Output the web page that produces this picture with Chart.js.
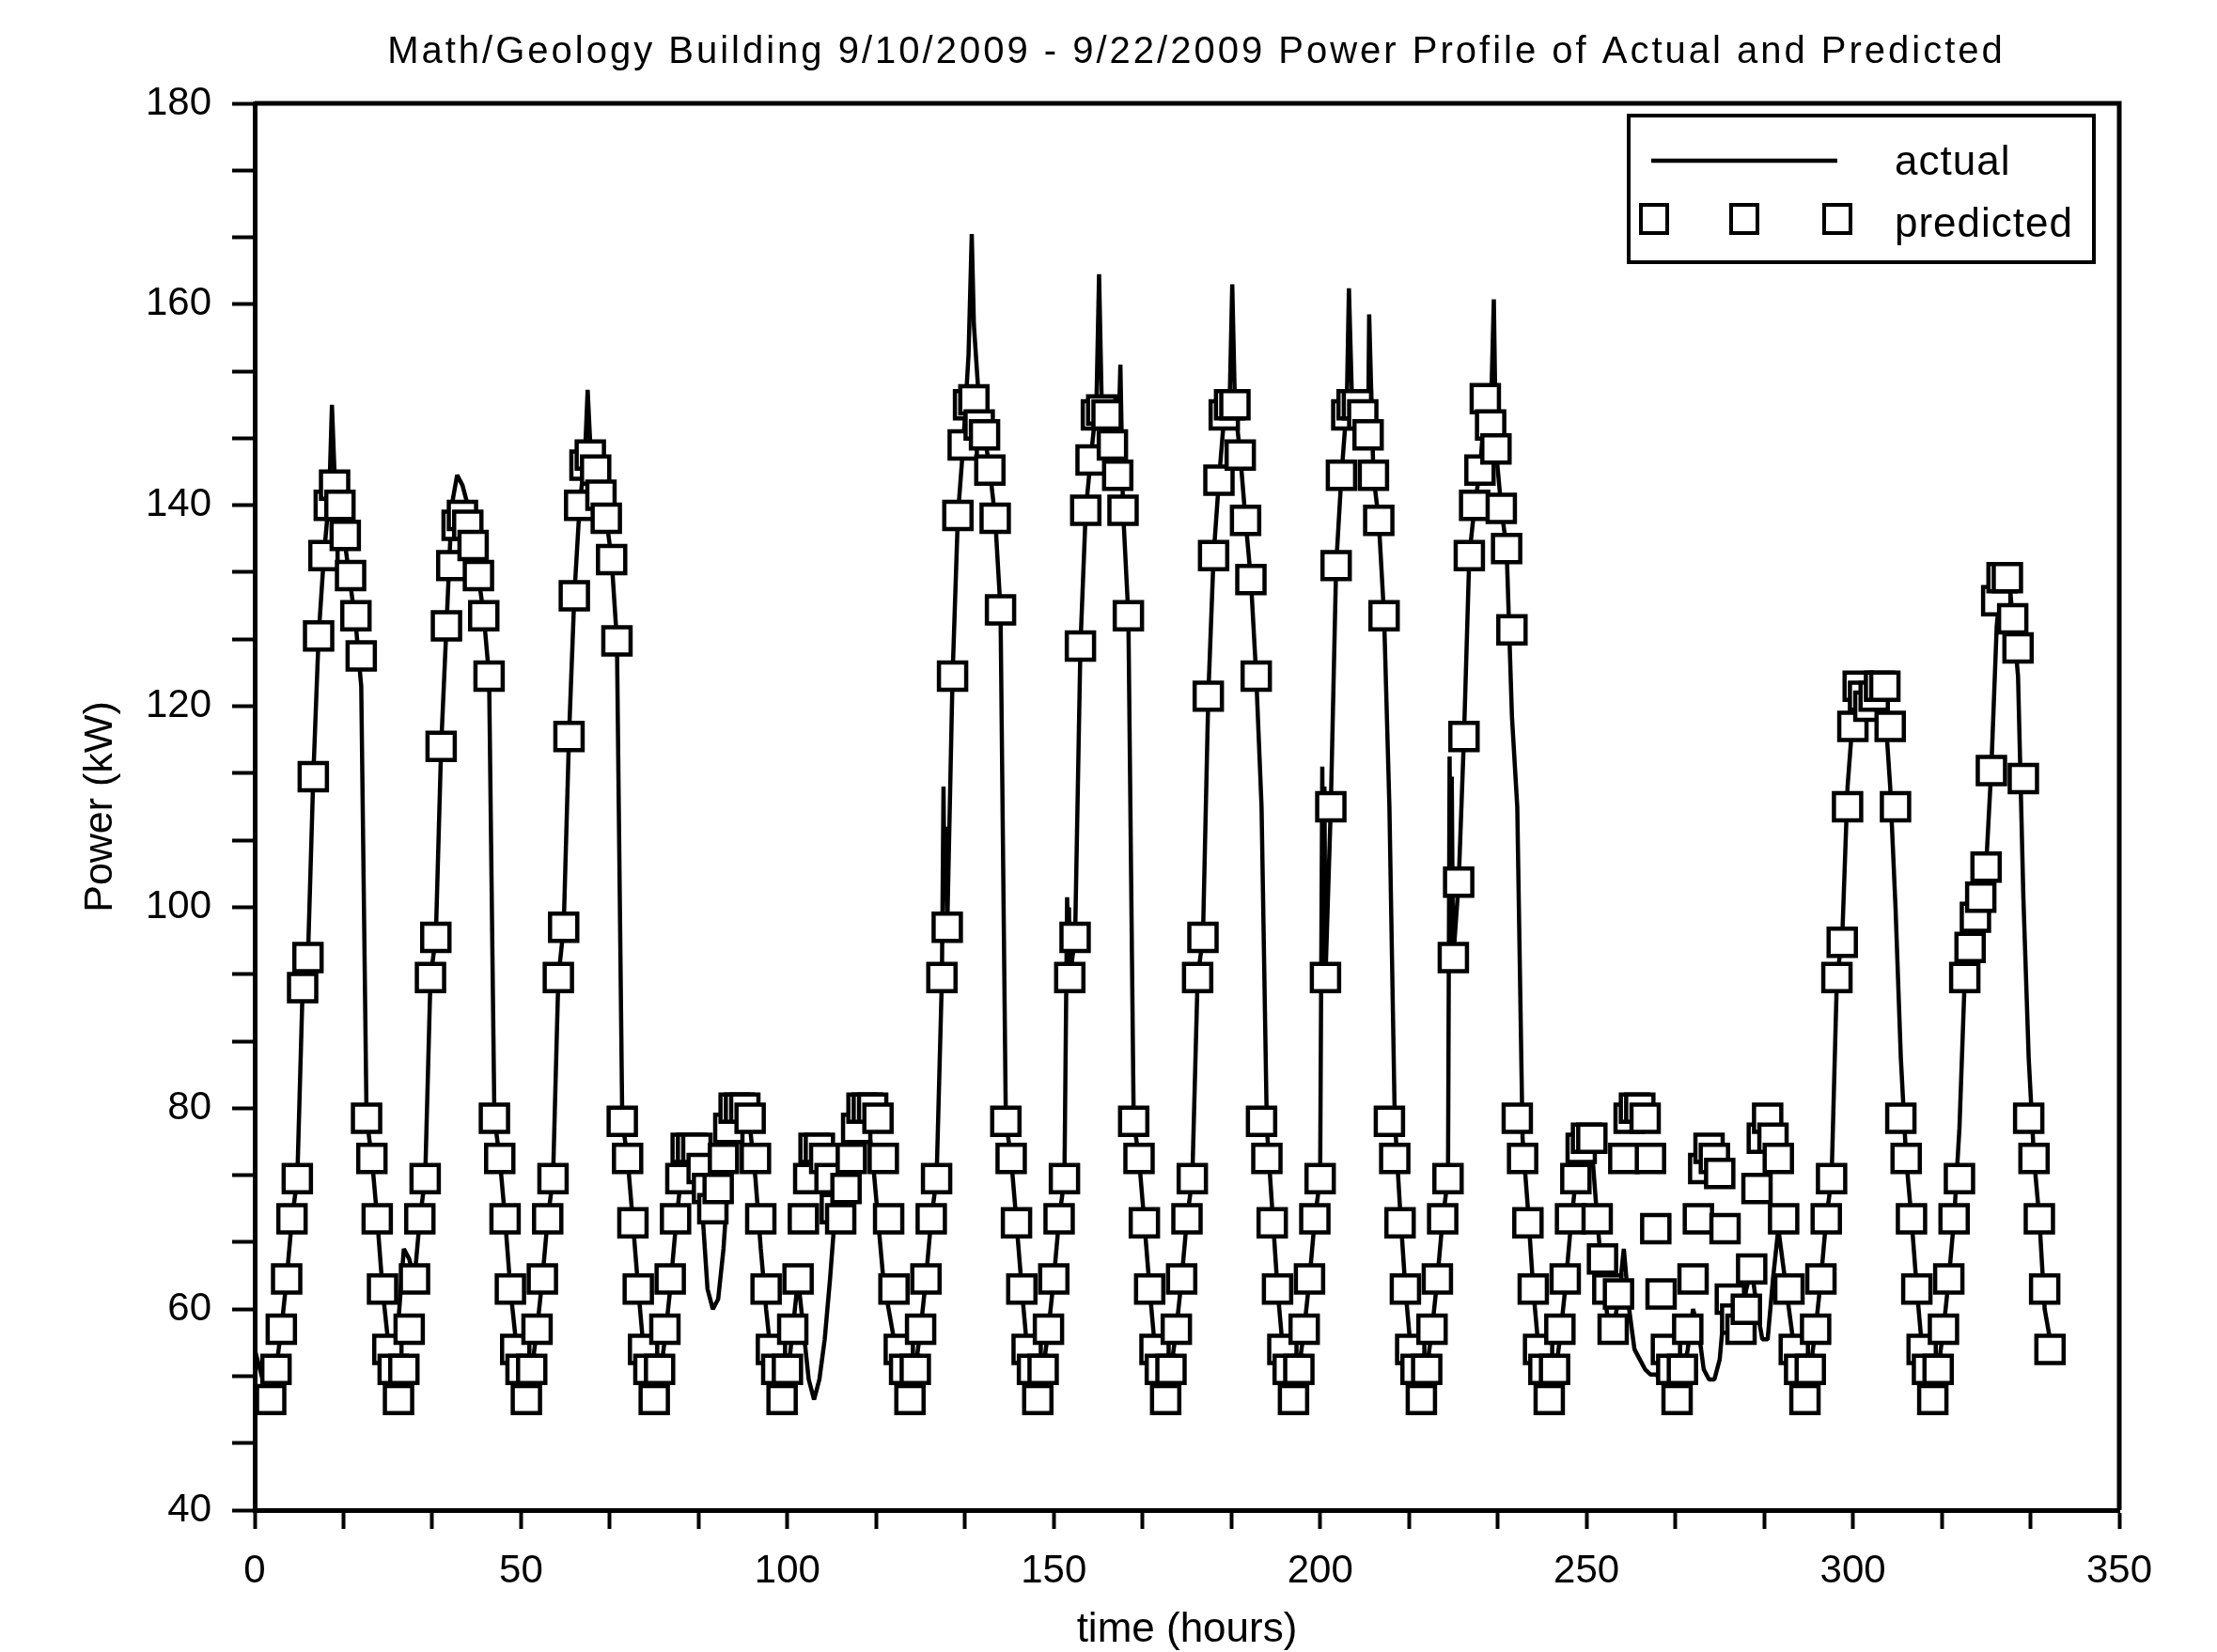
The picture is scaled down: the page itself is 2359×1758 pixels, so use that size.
<!DOCTYPE html>
<html>
<head>
<meta charset="utf-8">
<title>Math/Geology Building Power Profile</title>
<script src="https://cdn.jsdelivr.net/npm/chart.js@4.4.1/dist/chart.umd.min.js"></script>
<style>
  html, body { margin: 0; padding: 0; background: #fff; }
  canvas { display: block; }
</style>
</head>
<body>
<canvas id="powerChart" width="2359" height="1758"></canvas>
<script>
// --- Data (kW, one value per hour) ---
const chartTitle = 'Math/Geology Building 9/10/2009 - 9/22/2009 Power Profile of Actual and Predicted';
const xTitle = 'time (hours)';
const yTitle = 'Power (kW)';
const xMajorTicks = [0, 50, 100, 150, 200, 250, 300, 350];
const yMajorTicks = [40, 60, 80, 100, 120, 140, 160, 180];

// actual power, hours 0..337
const actualPower = [
  56, 54, 52, 51.5, 54, 58, 63, 69, 73, 92, 95, 113, 127, 135, 141, 143, 139, 136, 132, 128, 122, 79, 75, 69,
  62, 57, 55, 59, 66, 65, 63, 69, 73, 93, 97, 116, 128, 140, 143, 142, 140, 136, 133, 129, 123, 79, 75, 69,
  62, 57, 54, 51, 54, 58, 63, 69, 73, 93, 98, 117, 131, 140, 145, 146, 143.5, 141, 138.7, 134.6, 126.5, 78.7, 75, 68.6,
  62, 56, 53, 51, 53, 57, 62, 68, 73, 76, 77, 75, 70, 62, 60, 61, 66, 74, 79, 80, 79, 78, 73, 66,
  60, 55, 52, 51, 53, 58, 63, 58, 53, 51, 53, 57, 63, 70, 71, 74, 78, 80, 80, 79, 75, 69, 63, 60,
  57, 55, 53, 51, 54, 58, 63, 69, 73, 93, 98, 123, 139, 146, 155, 158, 150, 147, 143.5, 138.7, 129.6, 78.7, 75, 68.6,
  62, 56, 54, 51, 54, 58, 63, 69, 73, 93, 97, 126, 139.5, 145, 150, 150, 149, 146, 144, 139.5, 129, 78.7, 75, 68.6,
  62, 56, 54, 51, 54, 58, 63, 69, 73, 93, 97, 121, 135, 142.5, 149, 150, 150, 145, 138.5, 132.6, 123, 110, 78, 70,
  62, 56, 54, 51, 54, 58, 63, 69, 73, 93, 110, 134, 143, 150, 150, 150, 150, 147, 143, 138.5, 129, 110, 79, 70,
  62, 56, 54, 51, 54, 58, 63, 69, 73, 95, 102.5, 117, 135, 140, 143.5, 150.6, 148, 145.6, 139.7, 135.7, 119, 110, 77, 70,
  62, 56, 53, 51, 53, 57, 62, 68, 73, 76, 77, 76, 69, 63, 59, 58, 61, 66, 60, 56, 55, 54, 53.5, 53.5,
  53, 52, 51, 51.5, 53, 56, 60, 58, 54, 53, 53, 55, 61, 60, 58, 59, 62, 64, 60, 57, 57, 63, 68, 64,
  60, 56, 54, 51, 54, 58, 63, 69, 73, 93, 97, 112, 119, 122, 122, 123, 122, 122, 120, 112, 100, 85, 75, 69,
  62, 56, 54, 51, 54, 58, 63, 69, 78, 93, 96, 99, 101.5, 104, 114, 128, 133.5, 134, 129, 123, 101, 85, 75, 69, 60, 57
];

// short spikes of the actual line between whole hours
const spikeHours  = [14.5, 62.5, 129.3, 129.5, 129.7, 134.6, 152.5, 152.7, 152.85, 158.5, 162.5, 183.5, 200.4, 200.6, 200.8, 205.4, 209.2, 224.3, 224.5, 224.7, 224.9, 232.6];
const spikeValues = [150, 151.5, 112, 101, 108, 167, 101, 97, 100, 163, 154, 162, 114, 97, 112, 161.6, 159, 115, 100, 113, 98, 160.5];

// predicted power, hours 3..337
const predictedStart = 3;
const predictedPower = [
  51, 54, 58, 63, 69, 73, 92, 95, 113, 127, 135, 140, 142, 140, 137, 133, 129, 125, 79, 75, 69,
  62, 56, 54, 51, 54, 58, 63, 69, 73, 93, 97, 116, 128, 134, 138, 139, 138, 136, 133, 129, 123, 79, 75, 69,
  62, 56, 54, 51, 54, 58, 63, 69, 73, 93, 98, 117, 131, 140, 144, 145, 143.5, 141, 138.7, 134.6, 126.5, 78.7, 75, 68.6,
  62, 56, 54, 51, 54, 58, 63, 69, 73, 76, 76, 76, 74, 72, 70, 72, 75, 78, 80, 80, 80, 79, 75, 69,
  62, 56, 54, 51, 54, 58, 63, 69, 73, 76, 76, 75, 73, 70, 69, 72, 75, 78, 80, 80, 80, 79, 75, 69,
  62, 56, 54, 51, 54, 58, 63, 69, 73, 93, 98, 123, 139, 146, 150, 150.5, 148, 147, 143.5, 138.7, 129.6, 78.7, 75, 68.6,
  62, 56, 54, 51, 54, 58, 63, 69, 73, 93, 97, 126, 139.5, 144.5, 149, 149.5, 149, 146, 143, 139.5, 129, 78.7, 75, 68.6,
  62, 56, 54, 51, 54, 58, 63, 69, 73, 93, 97, 121, 135, 142.5, 149, 150, 150, 145, 138.5, 132.6, 123, 78.7, 75, 68.6,
  62, 56, 54, 51, 54, 58, 63, 69, 73, 93, 110, 134, 143, 149, 150, 150, 149, 147, 143, 138.5, 129, 78.7, 75, 68.6,
  62, 56, 54, 51, 54, 58, 63, 69, 73, 95, 102.5, 117, 135, 140, 143.5, 150.6, 148, 145.6, 139.7, 135.7, 127.6, 79, 75, 68.6,
  62, 56, 54, 51, 54, 58, 63, 69, 73, 76, 77, 77, 69, 65, 62, 58, 61.5, 75, 79, 80, 80, 79, 75, 68,
  61.5, 56, 54, 51, 54, 58, 63, 69, 74, 76, 75, 73.5, 68, 61, 59, 58, 60, 64, 72, 77, 79, 77, 75, 69,
  62, 56, 54, 51, 54, 58, 63, 69, 73, 93, 96.5, 110, 118, 122, 121, 120, 121, 122, 122, 118, 110, 79, 75, 69,
  62, 56, 54, 51, 54, 58, 63, 69, 73, 93, 96, 99, 101, 104, 113.6, 130.5, 132.8, 132.8, 128.7, 125.8, 112.8, 79, 75, 69, 62, 56
];

// --- build points ---
const actualPoints = actualPower.map((v, i) => ({ x: i, y: v }))
  .concat(spikeHours.map((h, i) => ({ x: h, y: spikeValues[i] })))
  .sort((a, b) => a.x - b.x);
const predictedPoints = predictedPower.map((v, i) => ({ x: predictedStart + i, y: v }));

// 2 minor ticks between major ones, as in the original plot
function withMinor(majors) {
  const out = [];
  for (let i = 0; i < majors.length - 1; i++) {
    const step = (majors[i + 1] - majors[i]) / 3;
    out.push(majors[i], majors[i] + step, majors[i] + 2 * step);
  }
  out.push(majors[majors.length - 1]);
  return out;
}
const isMajor = (v, majors) => majors.some(m => Math.abs(m - v) < 1e-6);

const FONT = '"Liberation Sans", Arial, sans-serif';

// title over the plot box
const titlePlugin = {
  id: 'plotTitle',
  afterDraw(chart) {
    const c = chart.ctx, a = chart.chartArea;
    c.save();
    c.font = '40px ' + FONT;
    c.letterSpacing = '3px';
    c.fillStyle = '#000';
    c.textAlign = 'center';
    c.textBaseline = 'middle';
    c.fillText(chartTitle, (a.left + a.right) / 2 + 10, 56);
    c.restore();
  }
};

// top and right sides of the box
const framePlugin = {
  id: 'frame',
  afterDatasetsDraw(chart) {
    const c = chart.ctx, a = chart.chartArea;
    c.save();
    c.strokeStyle = '#000';
    c.lineWidth = 5;
    c.beginPath();
    c.moveTo(a.left, a.top);
    c.lineTo(a.right, a.top);
    c.lineTo(a.right, a.bottom);
    c.stroke();
    c.restore();
  }
};

// boxed legend, top right
const legendPlugin = {
  id: 'boxLegend',
  afterDraw(chart) {
    const c = chart.ctx;
    c.save();
    c.fillStyle = '#fff';
    c.fillRect(1733, 123, 495, 156);
    c.strokeStyle = '#000';
    c.lineWidth = 4;
    c.strokeRect(1733, 123, 495, 156);
    c.beginPath();
    c.moveTo(1757, 171);
    c.lineTo(1955, 171);
    c.lineWidth = 4.5;
    c.stroke();
    c.lineWidth = 4;
    [1760, 1856, 1955].forEach(x => c.strokeRect(x - 14, 218, 28, 30));
    c.fillStyle = '#000';
    c.font = '44px ' + FONT;
    c.letterSpacing = '1px';
    c.textAlign = 'left';
    c.textBaseline = 'alphabetic';
    c.fillText('actual', 2016, 186);
    c.fillText('predicted', 2016, 252);
    c.restore();
  }
};

const ctx = document.getElementById('powerChart').getContext('2d');
const powerChart = new Chart(ctx, {
  type: 'line',
  data: {
    datasets: [
      {
        label: 'predicted',
        data: predictedPoints,
        showLine: false,
        pointStyle: 'rect',
        pointRadius: 20.5,
        pointBorderWidth: 4.5,
        pointBorderColor: '#000',
        pointBackgroundColor: '#fff',
        order: 0
      },
      {
        label: 'actual',
        data: actualPoints,
        borderColor: '#000',
        borderWidth: 4.5,
        borderJoinStyle: 'bevel',
        pointRadius: 0,
        tension: 0,
        fill: false,
        order: 1
      }
    ]
  },
  options: {
    responsive: false,
    animation: false,
    devicePixelRatio: 1,
    layout: { padding: { top: 110, right: 104, left: 0, bottom: 0 } },
    plugins: { legend: { display: false }, title: { display: false }, tooltip: { enabled: false } },
    scales: {
      x: {
        type: 'linear', min: 0, max: 350,
        afterBuildTicks: s => { s.ticks = withMinor(xMajorTicks).map(v => ({ value: v })); },
        afterFit: s => { s.height = 151; },
        border: { display: true, color: '#000', width: 5 },
        grid: { display: true, drawOnChartArea: false, drawTicks: true, tickLength: 20, tickWidth: 4, tickColor: '#000' },
        ticks: {
          autoSkip: false, maxRotation: 0, padding: 20, color: '#000',
          font: { family: FONT, size: 42 },
          callback: v => isMajor(v, xMajorTicks) ? String(Math.round(v)) : ''
        },
        title: { display: true, text: xTitle, color: '#000', font: { family: FONT, size: 44, lineHeight: 1 }, padding: { top: 0, bottom: 1 } }
      },
      y: {
        type: 'linear', min: 40, max: 180,
        afterBuildTicks: s => { s.ticks = withMinor(yMajorTicks).map(v => ({ value: v })); },
        afterFit: s => { s.width = 271; },
        border: { display: true, color: '#000', width: 5 },
        grid: { display: true, drawOnChartArea: false, drawTicks: true, tickLength: 24, tickWidth: 4, tickColor: '#000' },
        ticks: {
          autoSkip: false, padding: 22, color: '#000',
          font: { family: FONT, size: 42 },
          callback: v => isMajor(v, yMajorTicks) ? String(Math.round(v)) : ''
        },
        title: { display: true, text: yTitle, color: '#000', font: { family: FONT, size: 43, lineHeight: 1 }, padding: { top: 86, bottom: 0 } }
      }
    }
  },
  plugins: [framePlugin, titlePlugin, legendPlugin]
});
</script>
</body>
</html>
